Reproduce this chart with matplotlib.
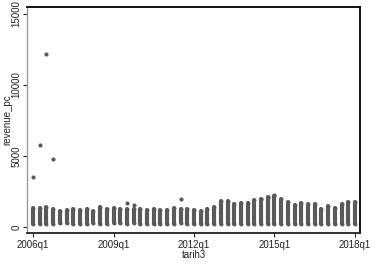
import matplotlib
matplotlib.use("Agg")
import matplotlib.pyplot as plt

plt.rcParams['font.family'] = ['Liberation Sans', 'DejaVu Sans']

# quarter index 0 = 2006q1 ... 48 = 2018q1
tick_pos = [0, 12, 24, 36, 48]
tick_labels = ["2006q1", "2009q1", "2012q1", "2015q1", "2018q1"]
ytick_vals = [0, 5000, 10000, 15000]
ytick_labels = ["0", "5000", "10000", "15000"]

# per-quarter range of the dense body of observations (revenue_pc)
col_low = [220, 230, 200, 210, 260, 250, 230, 240, 230, 250, 220, 230,
           250, 260, 240, 250, 230, 240, 220, 230, 240, 230, 250, 240,
           240, 230, 220, 230, 220, 200, 220, 210, 200, 220, 200, 200,
           210, 220, 230, 220, 210, 220, 220, 230, 230, 240, 220, 220, 210]
col_high = [1350, 1350, 1420, 1300, 1150, 1170, 1280, 1180, 1250, 1150, 1400, 1300,
            1330, 1250, 1250, 1300, 1250, 1200, 1250, 1180, 1200, 1350, 1250, 1250,
            1200, 1150, 1300, 1400, 1800, 1800, 1600, 1700, 1700, 1900, 2000, 2100,
            2200, 2000, 1750, 1550, 1700, 1650, 1650, 1300, 1500, 1350, 1600, 1750, 1750]

out_q = [0, 1, 2, 3, 14, 15, 22, 34, 35, 36]
out_v = [3500, 5750, 12150, 4800, 1670, 1550, 1950, 1950, 2100, 2230]

W, H = 376, 265
fig = plt.figure(figsize=(W / 100, H / 100), dpi=100)
ax = fig.add_axes([27/W, 1-233/H, (360-27)/W, (233-7)/H])

col = '#5a5a5a'
quarters = list(range(len(col_low)))
ax.vlines(quarters, col_low, col_high, colors=col, linewidth=3.0, capstyle='round')
ax.scatter(quarters, col_low, s=8, color=col, marker='o', linewidths=0)
ax.scatter(quarters, col_high, s=8, color=col, marker='o', linewidths=0)
ax.scatter(out_q, out_v, s=9, color=col, marker='o', linewidths=0)

ax.set_xlim(-0.9, 48.75)
ax.set_ylim(-423, 15493)
ax.set_xticks(tick_pos)
ax.set_xticklabels(tick_labels)
ax.set_yticks(ytick_vals)
ax.set_yticklabels(ytick_labels, rotation=90, va='center')

ax.tick_params(axis='both', labelsize=7.0, length=3, width=0.8, colors='#222222', pad=1)
ax.tick_params(axis='x', pad=2)
ax.set_xlabel("tarih3", fontsize=7.0, color='#222222', labelpad=0)
ax.set_ylabel("revenue_pc", fontsize=7.0, color='#222222', labelpad=-1)

for s in ['top', 'right']:
    ax.spines[s].set_color('black')
    ax.spines[s].set_linewidth(1.3)
ax.spines['bottom'].set_color('#222222')
ax.spines['bottom'].set_linewidth(1.3)
ax.spines['left'].set_color('#999999')
ax.spines['left'].set_linewidth(1.0)

fig.savefig("out.png", dpi=100)
